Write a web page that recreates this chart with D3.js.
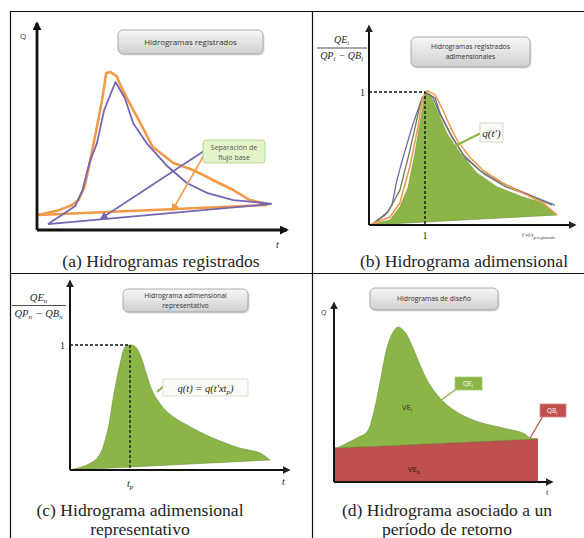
<!DOCTYPE html>
<html>
<head>
<meta charset="utf-8">
<script src="https://cdn.jsdelivr.net/npm/d3@7"></script>
<style>
  body { margin: 0; background: #fff; }
  svg { display: block; }
</style>
</head>
<body>
<svg id="fig" width="584" height="538"></svg>
<script>
// ---------- (a) recorded hydrographs: [t (h), Q (m3/s)] ----------
const recOrange = [[0.1,7.3],[2.2,9.8],[3.4,12.2],[4.0,14.6],[4.6,21],[5.1,32.7],[5.8,50.2],[6.3,63.4],
  [6.7,76.6],[7.1,77.1],[7.7,75.1],[8.2,69.3],[8.8,63.4],[9.7,55.1],[11.2,40.5],[13.2,32.7],
  [15.1,29.3],[17.4,23.4],[19.0,19.5],[20.6,14.6],[22.3,12.7]];
const recPurple = [[1.06,2.9],[2.7,8.3],[3.7,11.7],[4.4,19.5],[5.1,33.2],[5.8,42.4],[6.5,58.5],
  [7.6,72.2],[8.5,64.4],[9.3,52.2],[10.6,42.4],[12.6,31.2],[14.5,22.9],[16.5,18],[19.0,14.6],
  [20.9,13.7],[22.7,12.7]];
const baseOrange = [[0.1,7.3],[22.3,12.2]];
const basePurple = [[1.06,2.9],[22.7,12.7]];

// ---------- (b) dimensionless hydrographs: [t/tp, QE/(QP-QB)] ----------
const dimFill = [[0,0],[0.375,0.038],[0.55,0.135],[0.70,0.286],[0.82,0.54],[0.95,0.865],[1.0,1.0],
  [1.09,0.98],[1.21,0.865],[1.39,0.69],[1.63,0.54],[1.93,0.39],[2.29,0.286],[2.75,0.21],
  [3.11,0.165],[3.36,0.075]];
const dimOrange = [[0,0],[0.375,0.06],[0.55,0.165],[0.73,0.44],[0.875,0.74],[0.96,0.96],[1.04,1.01],
  [1.18,0.98],[1.32,0.865],[1.45,0.74],[1.57,0.64],[1.80,0.51],[2.04,0.41],[2.39,0.316],
  [2.75,0.24],[3.11,0.165],[3.36,0.075]];
const dimPurple = [[0.07,0.01],[0.29,0.075],[0.41,0.15],[0.5,0.34],[0.61,0.51],[0.77,0.74],[0.95,0.96],
  [1.04,0.99],[1.18,0.955],[1.27,0.84],[1.45,0.69],[1.68,0.53],[1.98,0.41],[2.34,0.32],
  [2.79,0.24],[3.14,0.18],[3.32,0.15]];
const dimOlive = [[0.04,0],[0.34,0.1],[0.55,0.26],[0.73,0.56],[0.91,0.9],[1.02,1.0],[1.14,0.96],
  [1.27,0.83],[1.48,0.66],[1.73,0.5],[2.07,0.38],[2.43,0.29],[2.88,0.22],[3.27,0.15]];

// ---------- (c) representative dimensionless hydrograph ----------
const repFill = [[0,0],[0.28,0.04],[0.47,0.104],[0.62,0.30],[0.72,0.576],[0.83,0.84],[0.92,0.984],
  [1.0,1.0],[1.08,0.99],[1.17,0.92],[1.28,0.76],[1.38,0.624],[1.62,0.464],[1.95,0.36],
  [2.38,0.256],[2.83,0.176],[3.17,0.136],[3.33,0.08]];

// ---------- (d) design hydrograph: [t (h), Q] ----------
const designDirect = [[0.17,1.92],[1.28,2.49],[1.83,2.82],[2.17,3.79],[2.56,5.65],[2.94,7.57],
  [3.28,8.47],[3.56,8.76],[3.94,8.47],[4.39,7.57],[4.78,6.61],[5.33,5.48],[6.28,4.35],
  [7.72,3.50],[9.39,3.05],[10.5,2.77],[10.9,2.49],[11.3,2.43]];
const designBase = [[0,0],[0,1.92],[11.3,2.43],[11.3,0]];

// ---------- text ----------
const captions = {
  a: ["(a) Hidrogramas registrados"],
  b: ["(b) Hidrograma adimensional"],
  c: ["(c) Hidrograma adimensional", "representativo"],
  d: ["(d) Hidrograma asociado a un", "período de retorno"]
};
const boxTitles = {
  a: ["Hidrogramas registrados"],
  b: ["Hidrogramas registrados", "adimensionales"],
  c: ["Hidrograma adimensional", "representativo"],
  d: ["Hidrogramas de diseño"]
};

const SERIF = "'Liberation Serif', 'Times New Roman', 'DejaVu Serif', serif";
const SANS = "'Open Sans', 'Liberation Sans', sans-serif";
const ORANGE = "#f29a48", PURPLE = "#7565b2", GREEN = "#8cb548", GREEN_DK = "#6e8f3a",
      OLIVE = "#6f7d5a", RED = "#c0504d";

const svg = d3.select("#fig");
const defs = svg.append("defs");

function serifText(g, size, italic) {
  return g.append("text").style("font-family", SERIF).style("font-size", size + "px")
    .style("font-style", italic ? "italic" : "normal").style("fill", "#1e1e1e");
}
function sansText(g, size, color) {
  return g.append("text").style("font-family", SANS).style("font-size", size + "px")
    .style("fill", color || "#333");
}

function marker(id, color, size) {
  defs.append("marker").attr("id", id)
    .attr("viewBox", "0 0 10 10").attr("refX", 8).attr("refY", 5)
    .attr("markerWidth", size).attr("markerHeight", size)
    .attr("markerUnits", "userSpaceOnUse").attr("orient", "auto")
    .append("path").attr("d", "M0,0L10,5L0,10Z").attr("fill", color);
}
marker("arrK", "#111", 9);
marker("arrKs", "#222", 8);
marker("arrO", ORANGE, 8);
marker("arrP", PURPLE, 8);

const grad = defs.append("linearGradient").attr("id", "boxGrad")
  .attr("x1", 0).attr("y1", 0).attr("x2", 0).attr("y2", 1);
grad.append("stop").attr("offset", "0%").attr("stop-color", "#f7f7f7");
grad.append("stop").attr("offset", "100%").attr("stop-color", "#cfcfcf");

// panel frame
const frame = svg.append("g").attr("stroke", "#111").attr("stroke-width", 1.2);
frame.append("line").attr("x1", 10.5).attr("y1", 11).attr("x2", 10.5).attr("y2", 538);
frame.append("line").attr("x1", 10).attr("y1", 11.5).attr("x2", 584).attr("y2", 11.5);
frame.append("line").attr("x1", 312.5).attr("y1", 11).attr("x2", 312.5).attr("y2", 538);
frame.append("line").attr("x1", 10).attr("y1", 273.5).attr("x2", 584).attr("y2", 273.5);

// helpers
function axes(g, x, y, xEnd, yTop, w, mk) {
  const x0 = x.range()[0], y0 = y.range()[0];
  g.append("line").attr("x1", x0).attr("y1", y0).attr("x2", xEnd).attr("y2", y0)
    .attr("stroke", "#111").attr("stroke-width", w).attr("marker-end", `url(#${mk})`);
  g.append("line").attr("x1", x0).attr("y1", y0).attr("x2", x0).attr("y2", yTop)
    .attr("stroke", "#111").attr("stroke-width", w).attr("marker-end", `url(#${mk})`);
}
function titleBox(g, x0, y0, w, h, lines, fs) {
  g.append("rect").attr("x", x0 + 1.5).attr("y", y0 + 1.5).attr("width", w).attr("height", h)
    .attr("rx", 5).attr("fill", "#bdbdbd").attr("opacity", 0.5);
  g.append("rect").attr("x", x0).attr("y", y0).attr("width", w).attr("height", h)
    .attr("rx", 5).attr("fill", "url(#boxGrad)").attr("stroke", "#9a9a9a").attr("stroke-width", 0.8);
  const lh = fs * 1.45;
  const start = y0 + h / 2 - (lines.length - 1) * lh / 2 + fs * 0.35;
  lines.forEach((t, i) => {
    sansText(g, fs).attr("x", x0 + w / 2).attr("y", start + i * lh)
      .attr("text-anchor", "middle").text(t);
  });
}
function caption(lines, cx, y0) {
  lines.forEach((t, i) => {
    serifText(svg, 17.6, false).attr("x", cx).attr("y", y0 + i * 18.5)
      .attr("text-anchor", "middle").text(t);
  });
}
function mathRun(textSel, parts, fs) {
  parts.forEach(([t, sub]) => {
    textSel.append("tspan").text(t);
    if (sub) {
      textSel.append("tspan").style("font-size", (fs * 0.65) + "px").attr("dy", 2).text(sub);
      textSel.append("tspan").attr("dy", -2).text("\u200A");
    }
  });
}
function fraction(g, cx, yNum, yLine, yDen, halfW, num, den, fs) {
  const n = serifText(g, fs, true).attr("x", cx).attr("y", yNum).attr("text-anchor", "middle");
  mathRun(n, num, fs);
  g.append("line").attr("x1", cx - halfW).attr("x2", cx + halfW).attr("y1", yLine).attr("y2", yLine)
    .attr("stroke", "#222").attr("stroke-width", 0.8);
  const d = serifText(g, fs, true).attr("x", cx).attr("y", yDen).attr("text-anchor", "middle");
  mathRun(d, den, fs);
}

// ================= (a) =================
{
  const g = svg.append("g");
  const x = d3.scaleLinear().domain([0, 24]).range([37, 285]);
  const y = d3.scaleLinear().domain([0, 100]).range([230, 25]);
  const line = d3.line().x(d => x(d[0])).y(d => y(d[1]));

  titleBox(g, 118, 30, 145, 24, boxTitles.a, 8);

  g.append("path").attr("d", line(recOrange)).attr("fill", "none")
    .attr("stroke", ORANGE).attr("stroke-width", 2.6).attr("stroke-linejoin", "round");
  g.append("path").attr("d", line(baseOrange)).attr("fill", "none")
    .attr("stroke", ORANGE).attr("stroke-width", 2.4);
  g.append("path").attr("d", line(recPurple)).attr("fill", "none")
    .attr("stroke", PURPLE).attr("stroke-width", 1.8).attr("stroke-linejoin", "round");
  g.append("path").attr("d", line(basePurple)).attr("fill", "none")
    .attr("stroke", PURPLE).attr("stroke-width", 1.8);

  // baseflow separation call-out
  g.append("line").attr("x1", 204).attr("y1", 151).attr("x2", x(6.2)).attr("y2", y(5.6))
    .attr("stroke", PURPLE).attr("stroke-width", 1.6).attr("marker-end", "url(#arrP)");
  g.append("line").attr("x1", 204).attr("y1", 155).attr("x2", x(13.1)).attr("y2", y(9.6))
    .attr("stroke", ORANGE).attr("stroke-width", 1.6).attr("marker-end", "url(#arrO)");
  g.append("rect").attr("x", 203).attr("y", 140).attr("width", 62).attr("height", 23).attr("rx", 3)
    .attr("fill", "#e4f4c9").attr("stroke", "#a9d07a").attr("stroke-width", 0.8);
  sansText(g, 7, "#555").attr("x", 234).attr("y", 149.5).attr("text-anchor", "middle").text("Separación de");
  sansText(g, 7, "#555").attr("x", 234).attr("y", 159.5).attr("text-anchor", "middle").text("flujo base");

  axes(g, x, y, 287, 23, 2.8, "arrK");
  sansText(g, 8).attr("x", 20).attr("y", 39).text("Q");
  serifText(g, 10, true).attr("x", 276).attr("y", 248).text("t");
  caption(captions.a, 161, 267);
}

// ================= (b) =================
{
  const g = svg.append("g");
  const x = d3.scaleLinear().domain([0, 1]).range([369, 425]);
  const y = d3.scaleLinear().domain([0, 1]).range([225, 92]);
  const line = d3.line().x(d => x(d[0])).y(d => y(d[1]));

  titleBox(g, 411, 37, 119, 30, boxTitles.b, 6.8);

  g.append("path").attr("d", line(dimFill) + "Z").attr("fill", GREEN)
    .attr("stroke", GREEN_DK).attr("stroke-width", 0.6);
  g.append("path").attr("d", line(dimPurple)).attr("fill", "none")
    .attr("stroke", PURPLE).attr("stroke-width", 1.3);
  g.append("path").attr("d", line(dimOlive)).attr("fill", "none")
    .attr("stroke", OLIVE).attr("stroke-width", 1.3);
  g.append("path").attr("d", line(dimOrange)).attr("fill", "none")
    .attr("stroke", ORANGE).attr("stroke-width", 1.5);

  // peak reference lines
  g.append("path").attr("d", `M${x(0)},${y(1)}H${x(1)}V${y(0)}`).attr("fill", "none")
    .attr("stroke", "#111").attr("stroke-width", 1.4).attr("stroke-dasharray", "3,2");

  axes(g, x, y, 575, 26, 2, "arrKs");
  serifText(g, 10, false).attr("x", x(0) - 4).attr("y", y(1) + 4).attr("text-anchor", "end").text("1");
  serifText(g, 10, false).attr("x", x(1)).attr("y", y(0) + 14).attr("text-anchor", "middle").text("1");

  // q(t') label
  g.append("line").attr("x1", 455).attr("y1", 146).attr("x2", 481).attr("y2", 133)
    .attr("stroke", GREEN).attr("stroke-width", 2);
  g.append("rect").attr("x", 480).attr("y", 123).attr("width", 23).attr("height", 19)
    .attr("fill", "#fbfbf5").attr("stroke", "#cfcfc0").attr("stroke-width", 0.8);
  serifText(g, 11, true).attr("x", 491.5).attr("y", 136.5).attr("text-anchor", "middle").text("q(t′)");

  fraction(g, 342, 43, 48, 59, 25, [["QE", "i"]], [["QP", "i"], [" − QB", "i"]], 10);

  const xl = serifText(g, 6, false).attr("x", 522).attr("y", 237).style("fill", "#444");
  xl.append("tspan").text("t′=t/t");
  xl.append("tspan").style("font-size", "4.5px").attr("dy", 1.5).text("p-registrado");

  caption(captions.b, 464, 267);
}

// ================= (c) =================
{
  const g = svg.append("g");
  const x = d3.scaleLinear().domain([0, 1]).range([70, 130]);
  const y = d3.scaleLinear().domain([0, 1]).range([470, 345]);
  const line = d3.line().x(d => x(d[0])).y(d => y(d[1])).curve(d3.curveCatmullRom.alpha(0.5));

  titleBox(g, 123, 289, 125, 23, boxTitles.c, 6.8);

  g.append("path").attr("d", line(repFill) + "Z").attr("fill", GREEN)
    .attr("stroke", GREEN_DK).attr("stroke-width", 0.6);

  g.append("path").attr("d", `M${x(0)},${y(1)}H${x(1)}V${y(0)}`).attr("fill", "none")
    .attr("stroke", "#111").attr("stroke-width", 1.3).attr("stroke-dasharray", "3,2");

  axes(g, x, y, 289, 281, 2, "arrKs");
  serifText(g, 10, false).attr("x", x(0) - 5).attr("y", y(1) + 4).attr("text-anchor", "end").text("1");
  const tp = serifText(g, 10, true).attr("x", x(1) - 3).attr("y", 487);
  tp.append("tspan").text("t");
  tp.append("tspan").style("font-size", "7px").attr("dy", 2).text("p");
  serifText(g, 10, true).attr("x", 282).attr("y", 485).text("t");

  // q(t) label
  g.append("line").attr("x1", 157).attr("y1", 392).attr("x2", 164).attr("y2", 386)
    .attr("stroke", GREEN).attr("stroke-width", 2);
  g.append("rect").attr("x", 163).attr("y", 379).attr("width", 85).attr("height", 17)
    .attr("fill", "#fbfbf5").attr("stroke", "#d6d6cc").attr("stroke-width", 0.8);
  const ql = serifText(g, 10.5, true).attr("x", 205.5).attr("y", 391.5).attr("text-anchor", "middle");
  ql.append("tspan").text("q(t) = q(t′xt");
  ql.append("tspan").style("font-size", "7px").attr("dy", 2).text("p");
  ql.append("tspan").attr("dy", -2).text(")");

  fraction(g, 39, 301, 305.5, 317, 27, [["QE", "n"]], [["QP", "n"], [" − QB", "n"]], 10.5);

  caption(captions.c, 140, 516);
}

// ================= (d) =================
{
  const g = svg.append("g");
  const x = d3.scaleLinear().domain([0, 12]).range([334, 550]);
  const y = d3.scaleLinear().domain([0, 10]).range([482, 305]);
  const lineS = d3.line().x(d => x(d[0])).y(d => y(d[1])).curve(d3.curveCatmullRom.alpha(0.5));
  const lineL = d3.line().x(d => x(d[0])).y(d => y(d[1]));

  titleBox(g, 370, 288, 128, 22, boxTitles.d, 6.8);

  g.append("path").attr("d", lineL(designBase) + "Z").attr("fill", RED)
    .attr("stroke", "#9c3c3a").attr("stroke-width", 0.8);
  g.append("path").attr("d", lineS(designDirect) + "Z").attr("fill", GREEN)
    .attr("stroke", GREEN_DK).attr("stroke-width", 0.6);

  axes(g, x, y, 552, 303, 2, "arrKs");
  sansText(g, 7).attr("x", 321).attr("y", 315).text("Q");
  serifText(g, 8, true).attr("x", 546).attr("y", 495).text("t");

  const ve = sansText(g, 7.5, "#2d3a1a").attr("x", 402).attr("y", 410);
  ve.append("tspan").text("VE");
  ve.append("tspan").style("font-size", "5px").attr("dy", 1.5).text("i");
  const vb = sansText(g, 7.5, "#2a0d0c").attr("x", 408).attr("y", 472);
  vb.append("tspan").text("VE");
  vb.append("tspan").style("font-size", "5px").attr("dy", 1.5).text("b");

  // QE_i tag
  g.append("line").attr("x1", 441).attr("y1", 400).attr("x2", 458).attr("y2", 388)
    .attr("stroke", GREEN).attr("stroke-width", 1.5);
  g.append("rect").attr("x", 455).attr("y", 377).attr("width", 27).attr("height", 13)
    .attr("fill", GREEN).attr("stroke", "#a8cf72").attr("stroke-width", 0.8);
  const qe = sansText(g, 6.5, "#fff").attr("x", 463).attr("y", 386);
  qe.append("tspan").text("QE");
  qe.append("tspan").style("font-size", "4.5px").attr("dy", 1.5).text("i");

  // QB_i tag
  g.append("line").attr("x1", x(10.9)).attr("y1", y(2.5)).attr("x2", 543).attr("y2", 416)
    .attr("stroke", RED).attr("stroke-width", 1.3);
  g.append("rect").attr("x", 540).attr("y", 404).attr("width", 26).attr("height", 13)
    .attr("fill", RED).attr("stroke", "#d98a88").attr("stroke-width", 0.8);
  const qb = sansText(g, 6.5, "#fff").attr("x", 547).attr("y", 413);
  qb.append("tspan").text("QB");
  qb.append("tspan").style("font-size", "4.5px").attr("dy", 1.5).text("i");

  caption(captions.d, 447, 516);
}
</script>
</body>
</html>
